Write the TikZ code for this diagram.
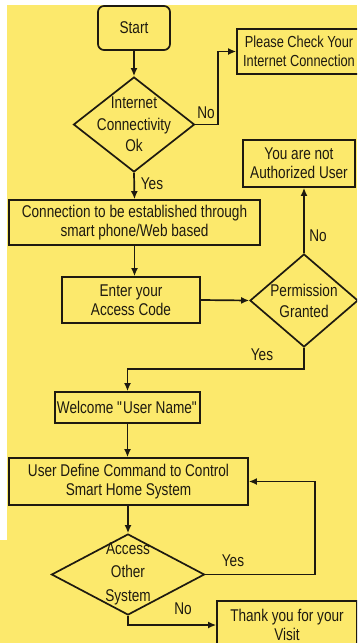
\documentclass[tikz,border=0pt]{standalone}
\usepackage{fontspec}
\setmainfont[FakeStretch=0.8]{Liberation Sans}
\usepackage{tikz}
\usetikzlibrary{arrows,arrows.meta,shapes,shapes.geometric,positioning,calc}
\definecolor{bgyellow}{RGB}{252,233,108}
\definecolor{inkline}{RGB}{30,26,16}

\begin{document}
\begin{tikzpicture}[
    x=1pt, y=-1pt,
    every node/.style={font=\fontsize{17}{19}\selectfont, text=inkline},
    squarednode/.style={rectangle, draw=inkline, line width=1.7pt, inner sep=0pt, align=center},
    roundednode/.style={squarednode, rounded corners=6pt},
    decisionnode/.style={diamond, draw=inkline, line width=1.7pt, inner sep=0pt},
    textlabel/.style={align=center, inner sep=0pt},
    flowline/.style={draw=inkline, line width=1.7pt, -{Latex[length=8pt,width=7pt]}},
    ]
    %Background
    \useasboundingbox (0,0) rectangle (357,643);
    \clip (0,0) rectangle (357,643);
    \fill[white] (0,0) rectangle (357,643);
    \fill[bgyellow] (7,5) rectangle (357,643);
    \fill[bgyellow] (0,540) rectangle (7,643);

    %Nodes
    \node[roundednode]  (start)    at (134,28)    [minimum width=72, minimum height=44]  {Start};
    \node[decisionnode] (internet) at (134,124.5) [minimum width=121, minimum height=95] {};
    \node[squarednode]  (check)    at (299,51.5)  [minimum width=124, minimum height=45, font=\fontsize{16}{19}\selectfont] {Please Check Your\\Internet Connection};
    \node[squarednode]  (notauth)  at (299,163.5) [minimum width=112, minimum height=47] {You are not\\Authorized User};
    \node[squarednode]  (connect)  at (134.5,222.5) [minimum width=251, minimum height=45] {Connection to be established through\\smart phone/Web based};
    \node[squarednode]  (code)     at (131,300)   [minimum width=138, minimum height=46] {Enter your\\Access Code};
    \node[decisionnode] (permit)   at (304,300.5) [minimum width=108, minimum height=93] {};
    \node[squarednode]  (welcome)  at (127.5,407.5) [minimum width=145, minimum height=31] {Welcome \textquotedbl User Name\textquotedbl};
    \node[squarednode]  (command)  at (128.5,481.5) [minimum width=239, minimum height=47] {User Define Command to Control\\Smart Home System};
    \node[decisionnode] (other)    at (128,574.5) [minimum width=153, minimum height=81] {};
    \node[squarednode]  (thanks)   at (287,625)   [minimum width=140, minimum height=48] {Thank you for your\\Visit};

    % Text labels (inside diamonds)
    \node[textlabel, font=\fontsize{17}{21.5}\selectfont] at (internet) {Internet\\Connectivity\\Ok};
    \node[textlabel, font=\fontsize{17}{21}\selectfont]   at (permit)   {Permission\\Granted};
    \node[textlabel, font=\fontsize{17}{23.5}\selectfont] at ($(other)+(0,-1)$) {Access\\Other\\System};

    % Text labels (on lines)
    \node[textlabel] at (206,113) {No};
    \node[textlabel] at (152,184) {Yes};
    \node[textlabel] at (318,236) {No};
    \node[textlabel] at (262,355) {Yes};
    \node[textlabel] at (233,561) {Yes};
    \node[textlabel] at (183,609) {No};

    %Lines
    \draw[flowline] (start.south)    -- (internet.north);
    \draw[flowline] (internet.east)  -| (218,51.5) -- (check.west);
    \draw[flowline] (internet.south) -- (connect.north);
    \draw[flowline] (connect.south)  -- (connect.south |- code.north);
    \draw[flowline] (code.east)      -- (permit.west);
    \draw[flowline] (permit.north)   -- (permit.north |- notauth.south);
    \draw[flowline] (permit.south)   -- ++(0,21) -| (welcome.north);
    \draw[flowline] (welcome.south)  -- (welcome.south |- command.north);
    \draw[flowline] (other.north |- command.south) -- (other.north);
    \draw[flowline] (other.east)     -| (315,481.5) -- (command.east);
    \draw[flowline] (other.south)    |- (thanks.west);
\end{tikzpicture}
\end{document}
